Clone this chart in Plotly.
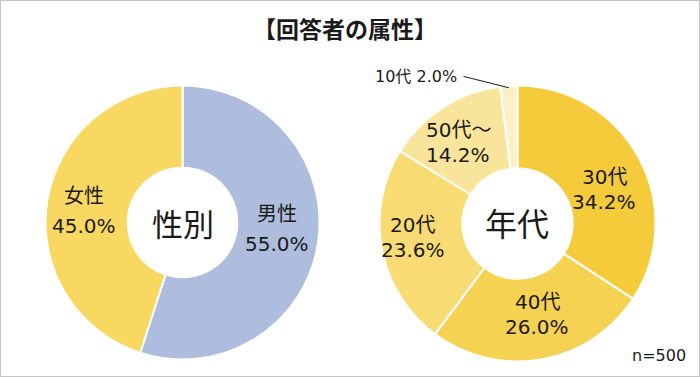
import math
import plotly.graph_objects as go

# ---- data ----
gender_labels = ["男性", "女性"]
gender_values = [55.0, 45.0]
gender_colors = ["#AEBCDD", "#F9D862"]

age_labels = ["30代", "40代", "20代", "50代～", "10代"]
age_values = [34.2, 26.0, 23.6, 14.2, 2.0]
age_colors = ["#F5CB3C", "#F6D252", "#F8DB72", "#F9E49C", "#FCF0C8"]

title_text = "【回答者の属性】"
gender_center = "性別"
age_center = "年代"
n_text = "n=500"

W, H = 700, 377
FONT = "DejaVu Sans, Noto Sans CJK JP, sans-serif"
CJK = "Noto Sans CJK JP, sans-serif"

# pie geometry (pixels)
L_CX, L_CY, L_R = 182.5, 222.5, 137
R_CX, R_CY, R_R = 517.5, 223.5, 138
HOLE = 0.40


def dom(cx, cy, r):
    return dict(x=[(cx - r) / W, (cx + r) / W],
                y=[(H - cy - r) / H, (H - cy + r) / H])


fig = go.Figure()
fig.add_trace(go.Pie(
    labels=gender_labels, values=gender_values, sort=False, direction="clockwise",
    rotation=0, hole=HOLE, domain=dom(L_CX, L_CY, L_R),
    marker=dict(colors=gender_colors, line=dict(color="white", width=2)),
    textinfo="none", hoverinfo="label+percent", showlegend=False))
fig.add_trace(go.Pie(
    labels=age_labels, values=age_values, sort=False, direction="clockwise",
    rotation=0, hole=HOLE, domain=dom(R_CX, R_CY, R_R),
    marker=dict(colors=age_colors, line=dict(color="white", width=2)),
    textinfo="none", hoverinfo="label+percent", showlegend=False))


def mid_points(values, cx, cy, r, hole):
    tot = sum(values)
    acc = 0
    pts = []
    for v in values:
        mid = (acc + v / 2) / tot * 2 * math.pi
        acc += v
        rr = (r * hole + r) / 2
        pts.append((cx + rr * math.sin(mid), cy - rr * math.cos(mid), mid))
    return pts


ann = []


def add_text(px, py, text, size, family=FONT, xanchor="center"):
    ann.append(dict(x=px / W, y=1 - py / H, xref="paper", yref="paper",
                    xanchor=xanchor, yanchor="middle",
                    text=text, showarrow=False, align="center",
                    font=dict(family=family, size=size, color="#1a1a1a")))


def add_label(px, py, lab, val, gap=27, size=20):
    add_text(px, py - gap / 2, lab, size)
    add_text(px, py + gap / 2, f"{val:.1f}%", size)


# gender labels
gp = mid_points(gender_values, L_CX, L_CY, L_R, HOLE)
offs_g = [(0, -9), (-4, 4)]
for (x, y, _), lab, v, o in zip(gp, gender_labels, gender_values, offs_g):
    add_label(x + o[0], y + o[1], lab, v, gap=30)

# age labels
ap = mid_points(age_values, R_CX, R_CY, R_R, HOLE)
offs_a = [(2, 12), (3, -4), (-10, -4), (-7, 0)]
for (x, y, _), lab, v, o in zip(ap[:4], age_labels[:4], age_values[:4], offs_a):
    add_label(x + o[0], y + o[1], lab, v, gap=25)

# small slice outside with leader line
x10, y10, m10 = ap[4]
ex = R_CX + R_R * math.sin(m10)
ey = R_CY - R_R * math.cos(m10) + 2
ann.append(dict(x=ex / W, y=1 - ey / H, xref="paper", yref="paper",
                ax=462 - ex, ay=76 - ey, axref="pixel", ayref="pixel",
                text="", showarrow=True, arrowhead=0, arrowwidth=1,
                arrowcolor="#1a1a1a"))
add_text(459, 76, f"{age_labels[4]} {age_values[4]:.1f}%", 16, xanchor="right")

# center texts
add_text(L_CX, L_CY, gender_center, 31, family=CJK)
add_text(R_CX - 1, R_CY - 2, age_center, 32, family=CJK)

# title
add_text(345, 28, f"<b>{title_text}</b>", 23, family=CJK)
# n
add_text(688, 355, n_text, 16, xanchor="right")

fig.update_layout(
    width=W, height=H, margin=dict(l=0, r=0, t=0, b=0),
    paper_bgcolor="white", plot_bgcolor="white",
    annotations=ann,
    shapes=[dict(type="rect", xref="paper", yref="paper", x0=0, y0=0, x1=1, y1=1,
                 line=dict(color="#C4C4C4", width=2))],
)

fig.write_html("out.html", config={"displayModeBar": False},
               post_script="document.body.style.margin='0';")
